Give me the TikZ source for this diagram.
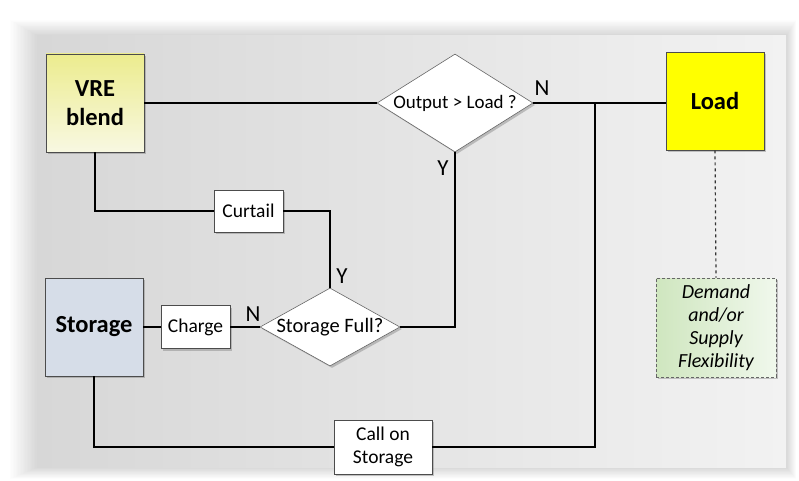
\documentclass[tikz,border=0pt]{standalone}
\usepackage{fontspec}
\setmainfont{Carlito}
\usetikzlibrary{shapes.geometric,shadows}
\definecolor{panelL}{HTML}{D7D7D7}
\definecolor{panelR}{HTML}{F2F2F2}
\definecolor{vreA}{HTML}{ECEC8E}
\definecolor{vreB}{HTML}{F8F8E2}
\definecolor{loadY}{HTML}{FFFF00}
\definecolor{storeB}{HTML}{D6DDE8}
\definecolor{flexA}{HTML}{CFE6BF}
\definecolor{flexB}{HTML}{F0F8EC}
\tikzset{
  sh/.style={drop shadow={shadow xshift=2pt,shadow yshift=-2pt,opacity=0.35,fill=black!60}},
  bigbox/.style={draw=black!70,line width=0.8pt,minimum width=98pt,minimum height=98pt,align=center,
     font=\fontsize{24.5}{29}\selectfont\bfseries,sh},
  smallbox/.style={draw=black!70,line width=0.8pt,fill=white,align=center,inner sep=0pt,
     font=\fontsize{19.5}{23}\selectfont,sh},
  dia/.style={diamond,draw=black!60,line width=0.6pt,fill=white,inner sep=0pt,
     font=\fontsize{19}{21}\selectfont,sh},
  conn/.style={line width=1.6pt,black},
  lab/.style={font=\fontsize{23}{26}\selectfont,inner sep=0pt}
}
\begin{document}
\begin{tikzpicture}[x=1pt,y=-1pt]
\useasboundingbox (0,0) rectangle (799,481);
\fill[white] (0,0) rectangle (799,481);
% soft shadow of panel
\foreach \i in {1,...,20}{
  \fill[black,opacity=0.009] (38-\i*1.4,36-\i*0.8) rectangle (786+\i*0.5,467+\i*0.6);
}
\shade[left color=panelL,right color=panelR] (38,36) rectangle (786,467);

% nodes
\node[bigbox,shading=axis,left color=vreA,right color=vreB,shading angle=0] (vre) at (95,103) {VRE\\blend};
\node[bigbox,fill=loadY] (load) at (715,101) {Load};
\node[bigbox,fill=storeB] (store) at (94,327) {Storage};
\node[dia,aspect=1.6,minimum width=156pt,minimum height=98pt] (out) at (455,103) {Output > Load ?};
\node[dia,aspect=1.8,minimum width=140pt,minimum height=78pt,font=\fontsize{20.5}{22}\selectfont] (sf) at (330,327) {Storage Full?};
\node[smallbox,minimum width=69pt,minimum height=42pt] (curt) at (248.5,211) {Curtail};
\node[smallbox,minimum width=69pt,minimum height=43pt] (charge) at (195.5,327) {Charge};
\node[smallbox,minimum width=98pt,minimum height=54pt] (call) at (383,447) {Call on\\Storage};
\node[draw=black!60,densely dashed,line width=0.6pt,left color=flexA,right color=flexB,
      minimum width=120pt,minimum height=99pt,align=center,inner sep=0pt,
      font=\fontsize{20}{23}\selectfont\itshape,sh] (flex) at (716,327.5)
      {Demand\\and/or\\Supply\\Flexibility};

\coordinate (j1) at (595,103);

% connectors
\draw[conn] (vre.east) -- (out.west);
\draw[conn] (out.east) -- (out.east -| load.west);
\draw[conn] (vre.south) |- (curt.west);
\draw[conn] (curt.east) -| (sf.north);
\draw[conn] (sf.east) -| (out.south);
\draw[conn] (store.east) -- (charge.west);
\draw[conn] (charge.east) -- (sf.west);
\draw[conn] (store.south) |- (call.west);
\draw[conn] (j1) |- (call.east);
\draw[black!80,line width=1.2pt,dashed] (load.south) -- (flex.north);

% labels
\node[lab] (n1) at (542,88) {N};
\node[lab] (y1) at (443,168) {Y};
\node[lab] (y2) at (342,276) {Y};
\node[lab] (n2) at (253,314) {N};
\end{tikzpicture}
\end{document}
